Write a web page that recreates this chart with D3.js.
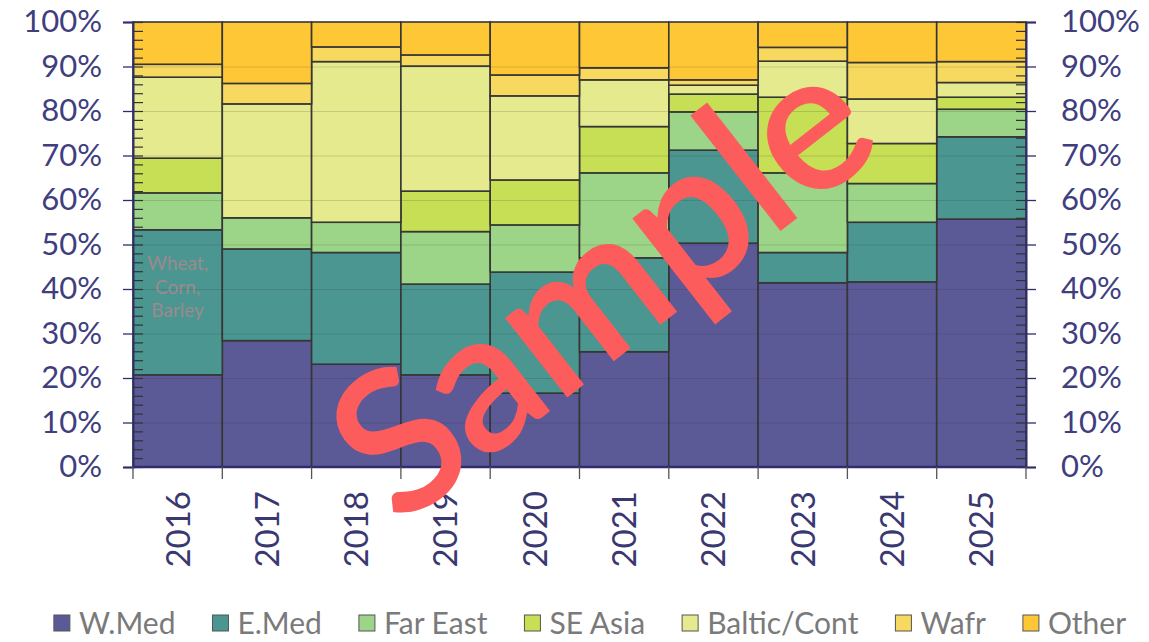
<!DOCTYPE html>
<html>
<head>
<meta charset="utf-8">
<script src="https://cdn.jsdelivr.net/npm/d3@7"></script>
<style>
  html, body { margin: 0; padding: 0; background: #fff; }
  svg { display: block; }
</style>
</head>
<body>
<svg id="chart" width="1149" height="642"></svg>
<script>
// data
const years = ['2016', '2017', '2018', '2019', '2020', '2021', '2022', '2023', '2024', '2025'];
const regions = ['W.Med', 'E.Med', 'Far East', 'SE Asia', 'Baltic/Cont', 'Wafr', 'Other'];

const wMed      = [20.7, 28.4, 23.1, 20.7, 16.6, 25.9, 50.3, 41.4, 41.6, 55.7];
const eMed      = [32.6, 20.6, 25.1, 20.4, 27.2, 21.1, 20.9,  6.8, 13.4, 18.5];
const farEast   = [ 8.3,  7.0,  6.8, 11.8, 10.6, 19.1,  8.6, 17.9,  8.7,  6.2];
const seAsia    = [ 7.8,  0.0,  0.0,  9.1, 10.1, 10.4,  4.0, 17.0,  9.0,  2.7];
const balticCont= [18.2, 25.6, 36.1, 28.1, 18.9, 10.5,  2.0,  8.1, 10.0,  3.3];
const wafr      = [ 2.9,  4.6,  3.3,  2.5,  4.7,  2.7,  1.2,  3.1,  8.2,  4.7];
const other     = [ 9.5, 13.8,  5.6,  7.4, 11.9, 10.3, 13.0,  5.7,  9.1,  8.9];

const yTicks = [0, 10, 20, 30, 40, 50, 60, 70, 80, 90, 100];
const noteLines = ['Wheat,', 'Corn,', 'Barley'];

const colors = ['#5c5a96', '#4b9690', '#9cd587', '#c6df55', '#e5ea8f', '#f8d95f', '#fdc735'];

// build table for the stack
const series = [wMed, eMed, farEast, seAsia, balticCont, wafr, other];
const table = years.map((yr, i) => {
  const row = { year: yr };
  regions.forEach((r, j) => { row[r] = series[j][i]; });
  return row;
});

const svg = d3.select('#chart');
const margins = { left: 133, right: 123, top: 22, bottom: 175 };
const width = 1149, height = 642;
const innerWidth = width - margins.left - margins.right;
const innerHeight = height - margins.top - margins.bottom;

const axisColor = '#2f2d6e';
const labelColor = '#403e7e';

const x = d3.scaleBand()
  .domain(years)
  .range([margins.left, margins.left + innerWidth])
  .padding(0);

const y = d3.scaleLinear()
  .domain([0, 100])
  .range([margins.top + innerHeight, margins.top]);

const color = d3.scaleOrdinal().domain(regions).range(colors);

const stacked = d3.stack().keys(regions)(table);

// bars
const dataContainer = svg.append('g').attr('class', 'dataContainer');
dataContainer.selectAll('g.layer')
  .data(stacked)
  .enter()
  .append('g')
  .attr('class', 'layer')
  .style('fill', (d) => color(d.key))
  .selectAll('rect')
  .data((d) => d)
  .enter()
  .append('rect')
  .attr('x', (d) => x(d.data.year))
  .attr('width', x.bandwidth())
  .attr('y', (d) => y(d[1]))
  .attr('height', (d) => y(d[0]) - y(d[1]))
  .style('stroke', '#363636')
  .style('stroke-width', 1.6);

// faint gridlines over the bars
svg.append('g')
  .attr('class', 'grid')
  .selectAll('line')
  .data(yTicks.slice(1, -1))
  .enter()
  .append('line')
  .attr('x1', margins.left)
  .attr('x2', margins.left + innerWidth)
  .attr('y1', (d) => y(d) + 0.5)
  .attr('y2', (d) => y(d) + 0.5)
  .style('stroke', 'rgba(40,40,40,0.16)')
  .style('stroke-width', 1.2);

// note in first bar
svg.append('text')
  .attr('x', x(years[0]) + x.bandwidth() / 2)
  .attr('y', 270)
  .attr('font-family', 'Lato, sans-serif')
  .attr('font-size', 19)
  .style('fill', '#9b8a8e')
  .style('text-anchor', 'middle')
  .selectAll('tspan')
  .data(noteLines)
  .enter()
  .append('tspan')
  .attr('x', x(years[0]) + x.bandwidth() / 2)
  .attr('dy', (d, i) => i === 0 ? 0 : 23.5)
  .text((d) => d);

// y axes
const minorTicks = d3.range(0, 101, 2);

function styleAxis(g) {
  g.attr('font-family', 'Lato, sans-serif').attr('font-size', 31);
  g.select('.domain').style('stroke', axisColor).style('stroke-width', 2);
  g.selectAll('.tick line').style('stroke', axisColor).style('stroke-width', 1.3);
  g.selectAll('.tick text').style('fill', labelColor);
}

function minorAxis(g) {
  g.select('.domain').remove();
  g.selectAll('.tick text').remove();
  g.selectAll('.tick line').style('stroke', '#333').style('stroke-width', 1.2);
}

svg.append('g')
  .attr('transform', `translate(${margins.left}, 0)`)
  .call(d3.axisLeft(y).tickValues(yTicks).tickFormat((d) => d + '%').tickSize(10).tickPadding(21))
  .call(styleAxis);

svg.append('g')
  .attr('transform', `translate(${margins.left}, 0)`)
  .call(d3.axisLeft(y).tickValues(minorTicks).tickSize(-10).tickSizeOuter(0))
  .call(minorAxis);

svg.append('g')
  .attr('transform', `translate(${margins.left + innerWidth}, 0)`)
  .call(d3.axisRight(y).tickValues(yTicks).tickFormat((d) => d + '%').tickSize(10).tickPadding(25))
  .call(styleAxis);

svg.append('g')
  .attr('transform', `translate(${margins.left + innerWidth}, 0)`)
  .call(d3.axisRight(y).tickValues(minorTicks).tickSize(-10).tickSizeOuter(0))
  .call(minorAxis);

// x axis: ticks on band edges, labels in the middle
const xBottom = margins.top + innerHeight;
svg.append('line')
  .attr('x1', margins.left).attr('x2', margins.left + innerWidth)
  .attr('y1', xBottom).attr('y2', xBottom)
  .style('stroke', axisColor).style('stroke-width', 2.5);

const edges = years.map((d) => x(d)).concat([margins.left + innerWidth]);
svg.append('g')
  .selectAll('line')
  .data(edges)
  .enter()
  .append('line')
  .attr('x1', (d) => d).attr('x2', (d) => d)
  .attr('y1', xBottom).attr('y2', xBottom + 12)
  .style('stroke', '#555').style('stroke-width', 1.3);

const xAxis = svg.append('g')
  .attr('transform', `translate(0, ${xBottom})`)
  .call(d3.axisBottom(x).tickSize(0).tickPadding(0))
  .attr('font-family', 'Lato, sans-serif')
  .attr('font-size', 33);
xAxis.select('.domain').remove();
xAxis.selectAll('.tick text')
  .attr('transform', 'rotate(-90)')
  .attr('x', -24)
  .attr('y', 0)
  .attr('dy', '0.36em')
  .style('text-anchor', 'end')
  .style('fill', '#3a3870');

// legend
const legend = svg.append('g')
  .attr('class', 'legend')
  .attr('font-family', 'Lato, sans-serif')
  .attr('font-size', 30);
let cursor = 0;
regions.forEach((r) => {
  const item = legend.append('g').attr('transform', `translate(${cursor}, 0)`);
  item.append('rect')
    .attr('x', 0).attr('y', 615)
    .attr('width', 16).attr('height', 16)
    .style('fill', color(r))
    .style('stroke', '#555')
    .style('stroke-width', 1);
  const t = item.append('text')
    .attr('x', 25).attr('y', 634)
    .style('fill', '#7a7a7a')
    .text(r);
  cursor += 25 + t.node().getComputedTextLength() + 37;
});
const legendWidth = cursor - 37;
legend.attr('transform', `translate(${590 - legendWidth / 2}, 0)`);

// watermark
svg.append('text')
  .attr('transform', 'translate(600, 284) rotate(-38)')
  .attr('dy', '0.35em')
  .attr('font-family', 'Lato, sans-serif')
  .attr('font-size', 198)
  .attr('font-weight', 600)
  .attr('letter-spacing', -3)
  .style('text-anchor', 'middle')
  .style('fill', '#fd5c5c')
  .text('Sample');
</script>
</body>
</html>
